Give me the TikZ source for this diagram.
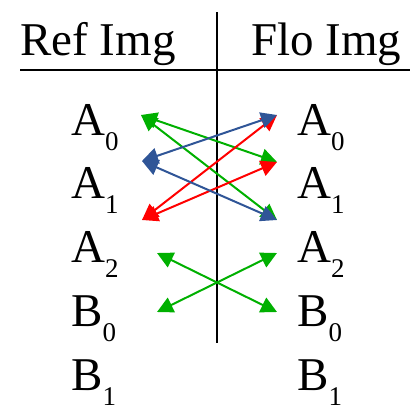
\documentclass[tikz,border=0pt]{standalone}
\usepackage{fontspec}
\setmainfont{Liberation Serif}
\usetikzlibrary{arrows.meta}
\definecolor{agreen}{RGB}{0,176,0}
\definecolor{ablue}{RGB}{47,85,151}
\definecolor{ared}{RGB}{255,0,0}
\newcommand{\lbl}[2]{#1\raisebox{-15pt}{\fontsize{27}{27}\selectfont #2}}
\begin{document}
\begin{tikzpicture}[x=1pt,y=-1pt,
  hdr/.style={anchor=base west,inner sep=0pt,font=\fontsize{47}{47}\selectfont},
  lab/.style={anchor=base west,inner sep=0pt,font=\fontsize{47}{47}\selectfont},
  rule/.style={line width=2pt,black},
  link/.style={line width=2pt,{Triangle[length=16pt,width=16pt]}-{Triangle[length=16pt,width=16pt]}}]
\useasboundingbox (0,0) rectangle (410,407);
% header
\node[hdr] (hr) at (20,55) {Ref Img};
\node[hdr] (hf) at (251,55) {Flo Img};
\coordinate (vt) at (217,12);
\coordinate (vb) at (217,343);
\coordinate (hl) at (20,70);
\coordinate (hrr) at (410,70);
\draw[rule] (vt) -- (vb);
\draw[rule] (hl) -- (hrr);
% labels
\node[lab] (la0) at (71,135) {\lbl{A}{0}};
\node[lab] (la1) at (71,198.75) {\lbl{A}{1}};
\node[lab] (la2) at (71,262.5) {\lbl{A}{2}};
\node[lab] (lb0) at (71,326.25) {\lbl{B}{0}};
\node[lab] (lb1) at (71,390) {\lbl{B}{1}};
\node[lab] (ra0) at (297,135) {\lbl{A}{0}};
\node[lab] (ra1) at (297,198.75) {\lbl{A}{1}};
\node[lab] (ra2) at (297,262.5) {\lbl{A}{2}};
\node[lab] (rb0) at (297,326.25) {\lbl{B}{0}};
\node[lab] (rb1) at (297,390) {\lbl{B}{1}};
% arrow end points
\coordinate (L0) at (141,115);
\coordinate (L1) at (142,161);
\coordinate (L2) at (142,220);
\coordinate (R0) at (277,115);
\coordinate (R1) at (277,162);
\coordinate (R2) at (277,220);
\coordinate (P) at (157,253);
\coordinate (Q) at (277,312);
\coordinate (S) at (277,253);
\coordinate (T) at (157,312);
% upper arrows
\draw[link,agreen] (L0) -- (R1);
\draw[link,agreen] (L0) -- (R2);
\draw[link,ared] (L2) -- (R1);
\draw[link,ared] (L2) -- (R0);
\draw[link,ablue] (L1) -- (R0);
\draw[link,ablue] (L1) -- (R2);
% lower arrows
\draw[link,agreen] (P) -- (Q);
\draw[link,agreen] (T) -- (S);
\end{tikzpicture}
\end{document}
